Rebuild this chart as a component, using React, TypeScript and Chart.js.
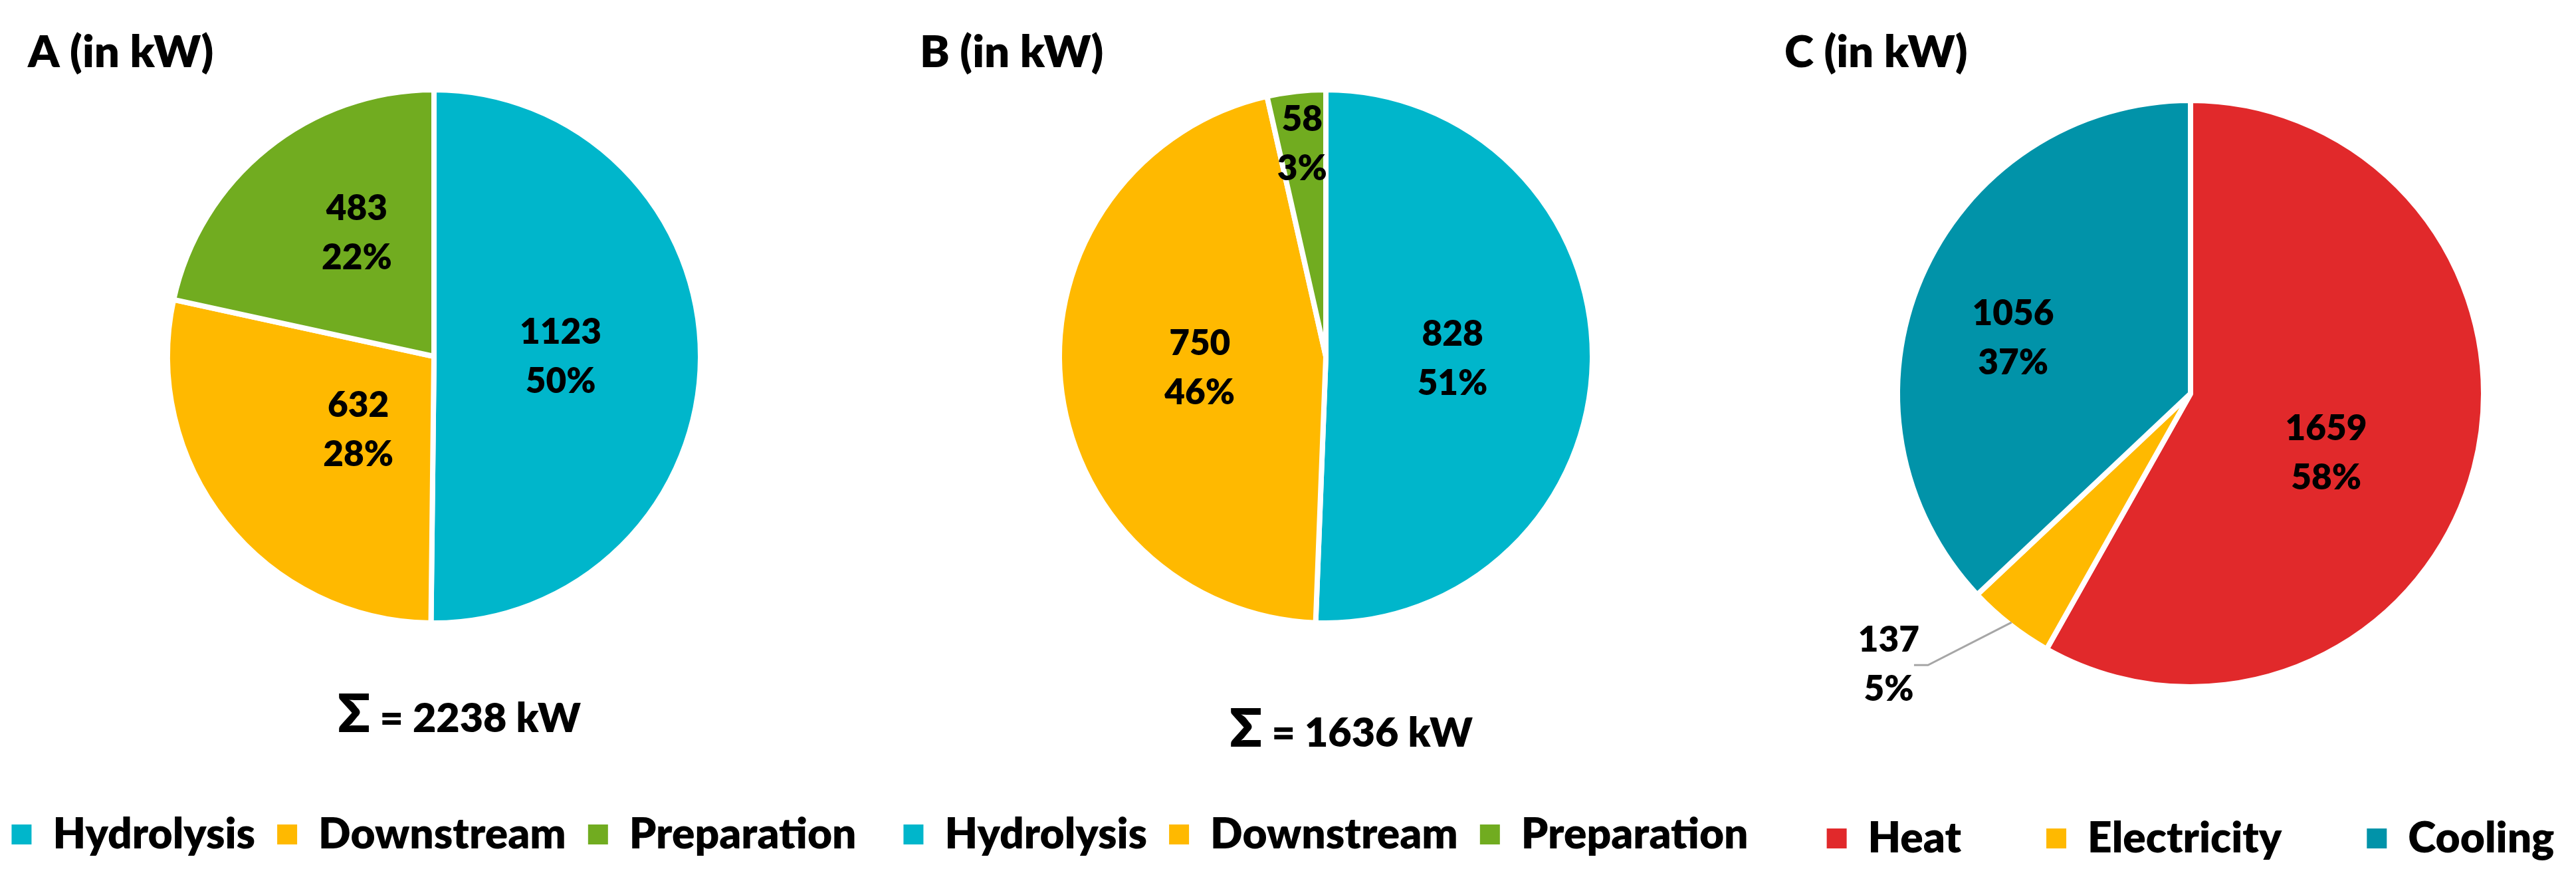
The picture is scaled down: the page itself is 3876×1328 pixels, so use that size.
import React, { useEffect, useRef } from 'react';
import { Chart, registerables } from 'chart.js';

Chart.register(...registerables);

// ---------------- data ----------------
const processCategories = ['Hydrolysis', 'Downstream', 'Preparation'];
const utilityCategories = ['Heat', 'Electricity', 'Cooling'];

const valuesA = [1123, 632, 483];
const percentsA = [50, 28, 22];

const valuesB = [828, 750, 58];
const percentsB = [51, 46, 3];

const valuesC = [1659, 137, 1056];
const percentsC = [58, 5, 37];

const panelTitles = ['A (in kW)', 'B (in kW)', 'C (in kW)'];
const sumUnit = 'kW';

// ---------------- styles ----------------
const processColors = ['#00B6CB', '#FFB900', '#71AC20'];
const utilityColors = ['#E1292B', '#FFB900', '#0193A9'];
const FONT = 'Lato, "Open Sans", "DejaVu Sans", sans-serif';
const WEIGHT = '800';
const LEGEND_SIZE = 64;
const Y_OFF = 118; // canvas is shifted up by this amount

type Placement = { mode: string; frac?: number; turn?: number };
type PanelCfg = {
  title: string;
  labels: string[];
  values: number[];
  percents: number[];
  colors: string[];
  showSum: boolean;
  left: number;
  width: number;
  radius: number;
  padTop: number;
  padBottom: number;
  legendPad: number;
  sumBaseline: number;
  placements: Placement[];
};

const panels: PanelCfg[] = [
  {
    title: panelTitles[0], labels: processCategories, values: valuesA, percents: percentsA, colors: processColors,
    showSum: true, left: -97, width: 1500, radius: 401, padTop: 0, padBottom: 31, legendPad: 33,
    sumBaseline: 1101,
    placements: [
      { mode: 'inside', frac: 0.48, turn: 0 },
      { mode: 'inside', frac: 0.4, turn: -5.7 },
      { mode: 'inside', frac: 0.55, turn: 6.7 },
    ],
  },
  {
    title: panelTitles[1], labels: processCategories, values: valuesB, percents: percentsB, colors: processColors,
    showSum: true, left: 1245, width: 1500, radius: 401, padTop: 0, padBottom: 31, legendPad: 33,
    sumBaseline: 1123,
    placements: [
      { mode: 'inside', frac: 0.48, turn: 0 },
      { mode: 'inside', frac: 0.48, turn: 0 },
      { mode: 'inside', frac: 0.81, turn: 0 },
    ],
  },
  {
    title: panelTitles[2], labels: utilityCategories, values: valuesC, percents: percentsC, colors: utilityColors,
    showSum: false, left: 2446, width: 1700, radius: 441, padTop: 83 + Y_OFF, padBottom: 25, legendPad: 128,
    sumBaseline: 0,
    placements: [
      { mode: 'inside', frac: 0.51, turn: 9 },
      { mode: 'outside' },
      { mode: 'inside', frac: 0.64, turn: -6 },
    ],
  },
];

const DEG = Math.PI / 180;

const panelTextPlugin = {
  id: 'panelText',
  afterDatasetsDraw(chart: any, _args: any, opts: any) {
    const ctx = chart.ctx as CanvasRenderingContext2D;
    const arcs = chart.getDatasetMeta(0).data;
    if (!arcs.length) return;
    const first = arcs[0].getProps(['x', 'y', 'outerRadius'], true);
    const cx = first.x;
    const cy = first.y;
    const R = first.outerRadius - 4;
    ctx.save();
    ctx.fillStyle = '#000';

    // panel title
    ctx.textAlign = 'left';
    ctx.textBaseline = 'alphabetic';
    ctx.font = `${WEIGHT} 67px ${FONT}`;
    ctx.fillText(opts.title, cx - 611, 101 + Y_OFF);

    const values: number[] = chart.data.datasets[0].data;

    // sum label
    if (opts.showSum) {
      const total = values.reduce((a, b) => a + b, 0);
      const rest = ` = ${total} ${opts.unit}`;
      const base = opts.sumBaseline + Y_OFF;
      ctx.font = `${WEIGHT} 80px ${FONT}`;
      const wSig = ctx.measureText('Σ').width;
      ctx.font = `${WEIGHT} 61px ${FONT}`;
      const wRest = ctx.measureText(rest).width;
      const x0 = cx + 38 - (wSig + wRest) / 2;
      ctx.font = `${WEIGHT} 80px ${FONT}`;
      ctx.fillText('Σ', x0, base);
      ctx.font = `${WEIGHT} 61px ${FONT}`;
      ctx.fillText(rest, x0 + wSig, base);
    }

    // data labels
    ctx.font = `${WEIGHT} 53px ${FONT}`;
    ctx.textAlign = 'center';
    ctx.textBaseline = 'middle';
    arcs.forEach((arc: any, i: number) => {
      const p = arc.getProps(['startAngle', 'endAngle'], true);
      const mid = (p.startAngle + p.endAngle) / 2;
      const pl = opts.placements[i];
      let lx: number;
      let ly: number;
      if (pl.mode === 'outside') {
        const ex = cx + Math.cos(mid) * R;
        const ey = cy + Math.sin(mid) * R;
        const a2 = mid + 6 * DEG;
        const kx = cx + Math.cos(a2) * R * 1.3;
        const ky = cy + Math.sin(a2) * R * 1.3;
        ctx.save();
        ctx.strokeStyle = '#A6A6A6';
        ctx.lineWidth = 3;
        ctx.beginPath();
        ctx.moveTo(ex, ey);
        ctx.lineTo(kx, ky);
        ctx.lineTo(kx - 21, ky);
        ctx.stroke();
        ctx.restore();
        lx = kx - 59;
        ly = ky;
      } else {
        const a = mid + (pl.turn || 0) * DEG;
        lx = cx + Math.cos(a) * R * pl.frac;
        ly = cy + Math.sin(a) * R * pl.frac;
      }
      ctx.fillStyle = '#000';
      ctx.fillText(String(values[i]), lx, ly - 37);
      ctx.fillText(`${opts.percents[i]}%`, lx, ly + 37);
    });
    ctx.restore();
  },
};

function PiePanel({ cfg }: { cfg: PanelCfg }) {
  const ref = useRef<HTMLCanvasElement>(null);
  useEffect(() => {
    const canvas = ref.current;
    if (!canvas) return;
    const chart = new Chart(canvas, {
      type: 'pie',
      data: {
        labels: cfg.labels,
        datasets: [
          {
            data: cfg.values,
            backgroundColor: cfg.colors,
            borderColor: '#ffffff',
            borderWidth: 8,
            radius: cfg.radius,
            hoverOffset: 0,
          } as any,
        ],
      },
      options: {
        responsive: false,
        animation: false,
        events: [],
        layout: { padding: { top: cfg.padTop, bottom: cfg.padBottom, left: 20, right: 20 } },
        plugins: {
          tooltip: { enabled: false },
          title: { display: false },
          legend: {
            display: true,
            position: 'bottom',
            labels: {
              color: '#000',
              font: { family: FONT, size: LEGEND_SIZE, weight: WEIGHT },
              boxWidth: 30,
              boxHeight: 30,
              padding: cfg.legendPad,
              generateLabels: (ch: any) =>
                ch.data.labels.map((t: string, i: number) => ({
                  text: t,
                  fillStyle: cfg.colors[i],
                  strokeStyle: cfg.colors[i],
                  lineWidth: 0,
                  hidden: false,
                  index: i,
                  fontColor: '#000',
                })),
            },
          },
          panelText: {
            title: cfg.title,
            showSum: cfg.showSum,
            unit: sumUnit,
            sumBaseline: cfg.sumBaseline,
            placements: cfg.placements,
            percents: cfg.percents,
          },
        } as any,
      },
      plugins: [panelTextPlugin],
    });
    return () => chart.destroy();
  }, []);
  return (
    <canvas
      ref={ref}
      width={cfg.width}
      height={1328 + Y_OFF}
      style={{ position: 'absolute', left: cfg.left, top: -Y_OFF }}
    />
  );
}

export default function App() {
  return (
    <div
      style={{
        position: 'absolute',
        left: 0,
        top: 0,
        width: 3876,
        height: 1328,
        overflow: 'hidden',
        background: '#ffffff',
      }}
    >
      {panels.map((p, i) => (
        <PiePanel key={i} cfg={p} />
      ))}
    </div>
  );
}
